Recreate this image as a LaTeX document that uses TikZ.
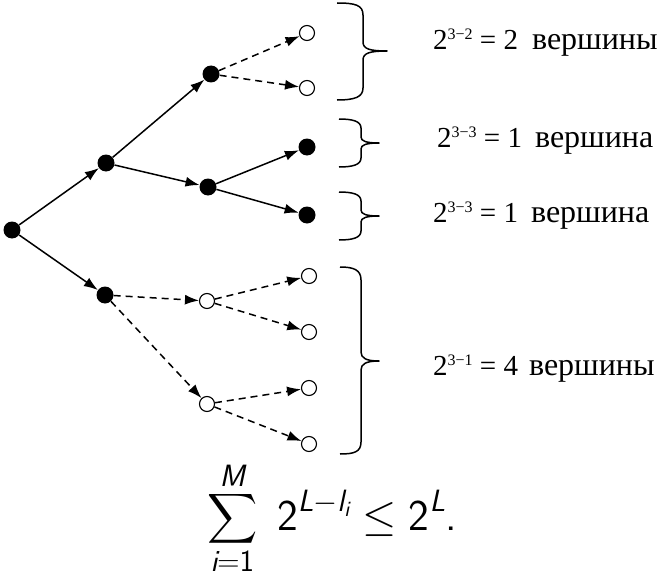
\RequirePackage{fix-cm}
\documentclass[tikz,border=0pt]{standalone}
\usepackage{amsmath}
\usepackage{graphicx}
\usepackage[no-math]{fontspec}
\setmainfont{Liberation Serif}
\usetikzlibrary{arrows.meta}
\newcommand{\expo}[1]{\raisebox{10pt}{\fontsize{16}{16}\selectfont #1}}
\newcommand{\word}[1]{{\fontsize{32}{34}\selectfont #1}}
\newcommand{\si}[1]{\textsf{\itshape #1}}
\newcommand{\bigsum}{\mathop{\vcenter{\hbox{\scalebox{1.4}{$\displaystyle\sum$}}}}\limits}

\begin{document}
\begin{tikzpicture}[x=1pt,y=1pt,yscale=-1,xscale=1,
  full/.style={circle,fill=black,inner sep=0pt,minimum size=17pt},
  hollow/.style={circle,draw=black,fill=white,line width=1.1pt,inner sep=0pt,minimum size=15pt},
  edge/.style={line width=1.5pt,-{Latex[length=14pt,width=10pt]}},
  dedge/.style={edge,dash pattern=on 7pt off 5pt},
  bracket/.style={line width=1.5pt,line join=round},
  count/.style={anchor=base west,inner sep=0pt,font=\fontsize{29}{31}\selectfont}]

\useasboundingbox (0,0) rectangle (664,578);

% --- 1. вершины дерева ---
\node [full] (root) at (12,230) {};
\node [full] (n1) at (106,163) {};
\node [full] (n2) at (105,295) {};
\node [full] (n11) at (211,74) {};
\node [full] (n12) at (208,187) {};
\node [hollow] (n21) at (207,301) {};
\node [hollow] (n22) at (207,404) {};
\node [hollow] (n111) at (307,33) {};
\node [hollow] (n112) at (307,88) {};
\node [full] (n121) at (307,147) {};
\node [full] (n122) at (307,215) {};
\node [hollow] (n211) at (309,276) {};
\node [hollow] (n212) at (309,332) {};
\node [hollow] (n221) at (309,388) {};
\node [hollow] (n222) at (309,444) {};

% --- 2. рёбра: сплошные и пунктирные ---
\draw [edge] (root) -- (n1);
\draw [edge] (root) -- (n2);
\draw [edge] (n1) -- (n11);
\draw [edge] (n1) -- (n12);
\draw [edge] (n12) -- (n121);
\draw [edge] (n12) -- (n122);
\draw [dedge] (n11) -- (n111);
\draw [dedge] (n11) -- (n112);
\draw [dedge] (n2) -- (n21);
\draw [dedge] (n2) -- (n22);
\draw [dedge] (n21) -- (n211);
\draw [dedge] (n21) -- (n212);
\draw [dedge] (n22) -- (n221);
\draw [dedge] (n22) -- (n222);

% --- 3. фигурные скобки справа ---
\draw [bracket] (337,3) .. controls (355,3) and (363,5) .. (363,15) -- (363,42)
    .. controls (363,49) and (370,51) .. (387,51)
    .. controls (370,51) and (363,53) .. (363,60) -- (363,88)
    .. controls (363,97) and (355,100) .. (337,100);
\draw [bracket] (339,119) .. controls (352,119) and (361,121) .. (361,128) -- (361,137)
    .. controls (361,141) and (366,143) .. (379,143)
    .. controls (366,143) and (361,145) .. (361,149) -- (361,158)
    .. controls (361,165) and (352,167) .. (339,167);
\draw [bracket] (339,192) .. controls (352,192) and (361,194) .. (361,201) -- (361,210)
    .. controls (361,214) and (366,216) .. (379,216)
    .. controls (366,216) and (361,218) .. (361,222) -- (361,231)
    .. controls (361,238) and (352,240) .. (339,240);
\draw [bracket] (340,267) .. controls (354,267) and (361,270) .. (361,280) -- (361,352)
    .. controls (361,358) and (366,361) .. (379,361)
    .. controls (366,361) and (361,364) .. (361,370) -- (361,442)
    .. controls (361,452) and (354,454) .. (340,454);

% --- 4. подписи ---
\node [count] (lab1) at (433,50) {2\expo{3−2} = 2\hspace{14pt}\word{вершины}};
\node [count] (lab2) at (437,147) {2\expo{3−3} = 1\hspace{13pt}\word{вершина}};
\node [count] (lab3) at (433,222) {2\expo{3−3} = 1\hspace{13pt}\word{вершина}};
\node [count] (lab4) at (433,375) {2\expo{3−1} = 4\hspace{11pt}\word{вершины}};

% --- 5. неравенство Крафта ---
\node [anchor=base west,inner sep=0pt,font=\fontsize{44}{46}\selectfont] (kraft) at (207,530)
    {$\displaystyle\bigsum_{\si{i}=\textsf{1}}^{\si{M}}\; \textsf{2}^{\si{L}-\si{l}_{\si{i}}} \le \textsf{2}^{\si{L}}\textsf{.}$};

\end{tikzpicture}
\end{document}
